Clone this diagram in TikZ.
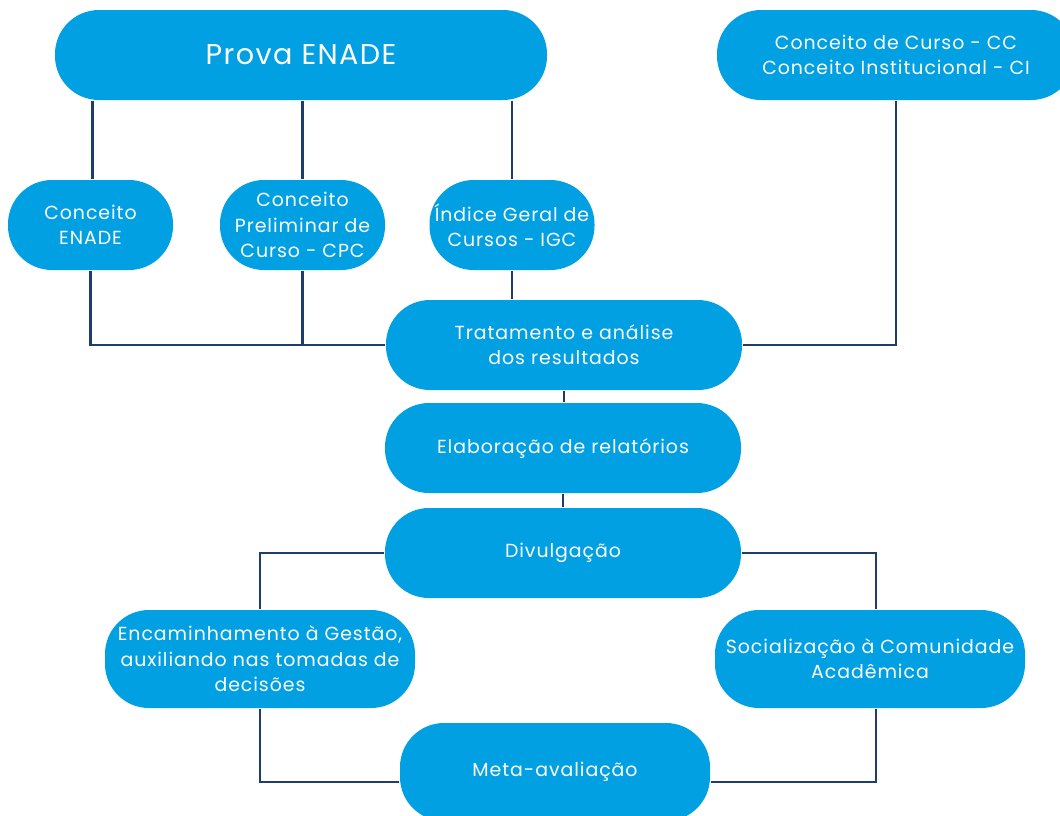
\documentclass[tikz,border=0pt]{standalone}
\usepackage{fontspec}
\setmainfont[LetterSpace=5]{Poppins}
\usepackage{tikz}

\definecolor{boxblue}{HTML}{00A0E3}
\definecolor{linenavy}{HTML}{1D3D6E}

\begin{document}
\begin{tikzpicture}[x=0.75pt,y=-0.75pt,line width=1.6pt,draw=linenavy]

  \tikzstyle{every node}=[font=\fontsize{14.2}{19}\selectfont]
  \tikzstyle{pill}=[rectangle,rounded corners=33pt,fill=boxblue,text=white,
                    align=center,inner sep=2pt,minimum height=67.5pt]
  \tikzstyle{link}=[draw=linenavy,line width=1.6pt]

  \useasboundingbox (0,0) rectangle (1060,815);

  \node[pill,minimum width=369pt,font=\fontsize{21.5}{24}\selectfont]
                           (PRV) at (301,55)  {Prova ENADE};
  \node[pill,minimum width=268.5pt] (CCI) at (896,55)  {Conceito de Curso - CC \\ Conceito Institucional - CI};

  \node[pill,minimum width=123.75pt] (CEN) at (90.5,225) {Conceito \\ ENADE};
  \node[pill,minimum width=123.75pt] (CPC) at (302.5,225) {Conceito \\ Preliminar de \\ Curso - CPC};
  \node[pill,minimum width=123.75pt] (IGC) at (512,225)  {Índice Geral de \\ Cursos - IGC};

  \node[pill,minimum width=267pt]   (TRA) at (564,345)  {Tratamento e análise \\ dos resultados};
  \node[pill,minimum width=267pt]   (ELA) at (563,448)  {Elaboração de relatórios};
  \node[pill,minimum width=267pt]   (DIV) at (563,553)  {Divulgação};

  \node[pill,minimum width=232.5pt,minimum height=73.5pt]
                                    (ENC) at (260,659)  {Encaminhamento à Gestão, \\ auxiliando nas tomadas de \\ decisões};
  \node[pill,minimum width=232.5pt,minimum height=73.5pt]
                                    (SOC) at (870,659)  {Socialização à Comunidade \\ Acadêmica};
  \node[pill,minimum width=232.5pt,minimum height=73.5pt]
                                    (MET) at (555,772)  {Meta-avaliação};

  \draw[link] ([xshift=1.5pt]CEN.north) -- ([xshift=1.5pt]CEN.north |- PRV.south);
  \draw[link] (CPC.north) -- (CPC.north |- PRV.south);
  \draw[link] (IGC.north) -- (IGC.north |- PRV.south);

  \draw[link] (CEN.south) |- (TRA.west);
  \draw[link] (CPC.south) -- (CPC.south |- TRA.west);
  \draw[link] (IGC.south) -- (IGC.south |- TRA.north);
  \draw[link] (CCI.south) |- (TRA.east);

  \draw[link] (TRA.south) -- (TRA.south |- ELA.north);
  \draw[link] (ELA.south) -- (DIV.north);

  \draw[link] (DIV.west) -| (ENC.north);
  \draw[link] (DIV.east) -| ([xshift=4.5pt]SOC.north);
  \draw[link] (ENC.south) |- ([yshift=-7.5pt]MET.west);
  \draw[link] ([xshift=4.5pt]SOC.south) |- ([yshift=-7.5pt]MET.east);
\end{tikzpicture}
\end{document}
